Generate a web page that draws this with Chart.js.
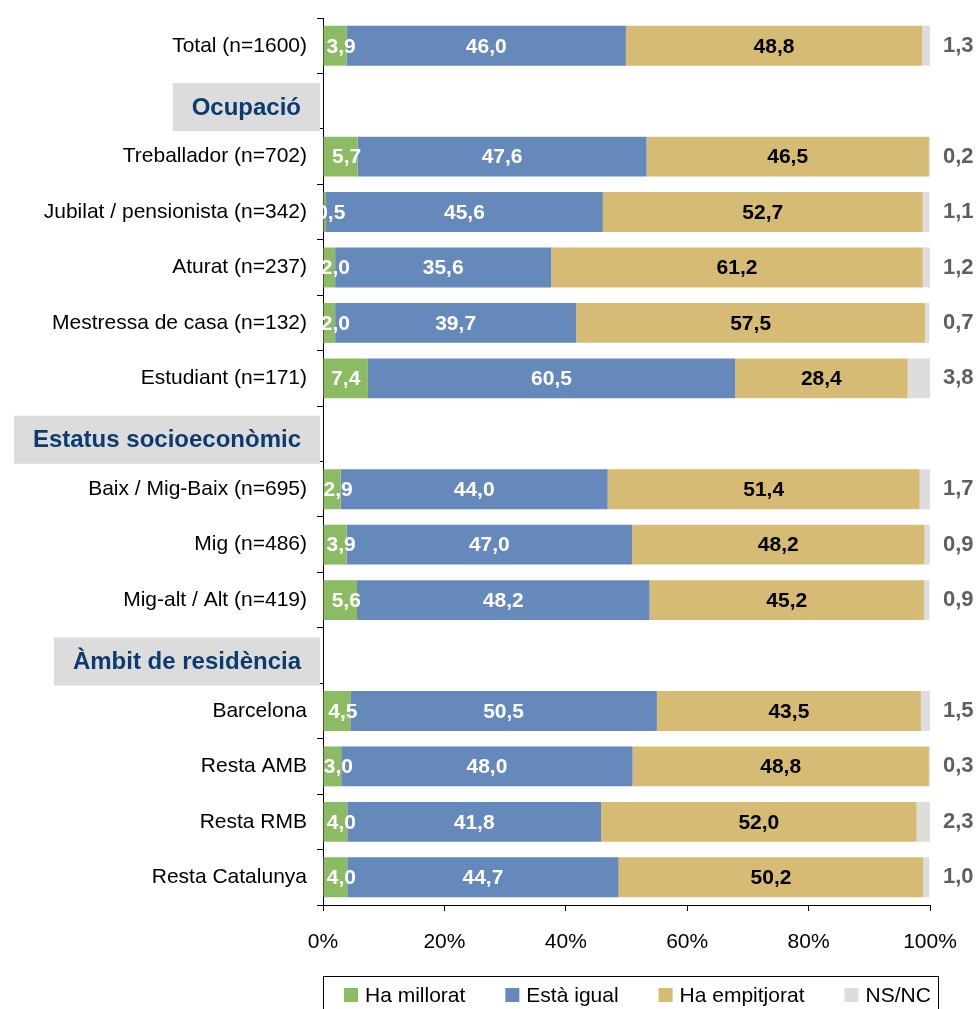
<!DOCTYPE html>
<html>
<head>
<meta charset="utf-8">
<script src="https://cdn.jsdelivr.net/npm/chart.js@4"></script>
<style>
  body { margin: 0; background: #fff; }
  canvas { display: block; }
</style>
</head>
<body>
<canvas id="opinio_chart" width="978" height="1009"></canvas>
<script>
const categories = [
  "Total (n=1600)",
  "Ocupació",
  "Treballador (n=702)",
  "Jubilat / pensionista (n=342)",
  "Aturat (n=237)",
  "Mestressa de casa (n=132)",
  "Estudiant (n=171)",
  "Estatus socioeconòmic",
  "Baix / Mig-Baix (n=695)",
  "Mig (n=486)",
  "Mig-alt / Alt (n=419)",
  "Àmbit de residència",
  "Barcelona",
  "Resta AMB",
  "Resta RMB",
  "Resta Catalunya",
];
const headerRows = ["Ocupació", "Estatus socioeconòmic", "Àmbit de residència"];
const seriesNames = ["Ha millorat", "Està igual", "Ha empitjorat", "NS/NC"];
const haMillorat = [3.9, null, 5.7, 0.5, 2.0, 2.0, 7.4, null, 2.9, 3.9, 5.6, null, 4.5, 3.0, 4.0, 4.0];
const estaIgual = [46.0, null, 47.6, 45.6, 35.6, 39.7, 60.5, null, 44.0, 47.0, 48.2, null, 50.5, 48.0, 41.8, 44.7];
const haEmpitjorat = [48.8, null, 46.5, 52.7, 61.2, 57.5, 28.4, null, 51.4, 48.2, 45.2, null, 43.5, 48.8, 52.0, 50.2];
const nsnc = [1.3, null, 0.2, 1.1, 1.2, 0.7, 3.8, null, 1.7, 0.9, 0.9, null, 1.5, 0.3, 2.3, 1.0];
const xTicks = [0, 20, 40, 60, 80, 100];

const colors = ["#8DBB63", "#6589BA", "#D6BB74", "#DDDDDD"];
const labelColors = ["#fff", "#fff", "#000", "#5f5f5f"];
const FONT = "'Liberation Sans', Arial, sans-serif";
Chart.defaults.font.family = FONT;
Chart.defaults.color = "#000";

const fmt = (v) => v.toFixed(1).replace(".", ",");

// labels inside the segments, NS/NC outside the bar on the right
const valueLabels = {
  id: "valueLabels",
  afterDatasetsDraw(chart) {
    const ctx = chart.ctx,
      area = chart.chartArea;
    ctx.save();
    ctx.font = `bold 21px ${FONT}`;
    ctx.textBaseline = "middle";
    chart.data.datasets.forEach((ds, i) => {
      chart.getDatasetMeta(i).data.forEach((bar, j) => {
        let v = ds.data[j];
        if (v == null) return;
        let { x, base, y } = bar.getProps(["x", "base", "y"], true);
        ctx.fillStyle = labelColors[i];
        if (i === 3) {
          ctx.textAlign = "left";
          ctx.font = `bold 22px ${FONT}`;
          ctx.fillText(fmt(v), area.right + 13, y);
          ctx.font = `bold 21px ${FONT}`;
        } else {
          let cx = (x + base) / 2;
          if (i === 0 && v < 6) cx += 6;
          ctx.textAlign = "center";
          ctx.fillText(fmt(v), cx, y + 1);
        }
      });
    });
    ctx.restore();
  },
};

// grey boxes for the section rows + framed legend at the bottom
const sectionsAndLegend = {
  id: "sectionsAndLegend",
  afterDraw(chart) {
    const ctx = chart.ctx,
      area = chart.chartArea,
      yScale = chart.scales.y;
    ctx.save();
    ctx.font = `bold 24px ${FONT}`;
    ctx.textBaseline = "middle";
    ctx.textAlign = "center";
    categories.forEach((cat, i) => {
      if (!headerRows.includes(cat)) return;
      let cy = yScale.getPixelForValue(i) + 6,
        w = ctx.measureText(cat).width + 38,
        right = area.left - 3;
      ctx.fillStyle = "#DCDCDC";
      ctx.fillRect(right - w, cy - 24, w, 48);
      ctx.fillStyle = "#0B3B6F";
      ctx.fillText(cat, right - w / 2, cy + 1);
    });

    // legend
    ctx.strokeStyle = "#000";
    ctx.lineWidth = 1;
    ctx.strokeRect(area.left + 0.5, 976.5, 615, 60);
    ctx.font = `21px ${FONT}`;
    ctx.textAlign = "left";
    let lx = area.left + 21;
    seriesNames.forEach((name, i) => {
      ctx.fillStyle = colors[i];
      ctx.fillRect(lx, 988, 14, 14);
      ctx.fillStyle = "#000";
      ctx.fillText(name, lx + 21, 996);
      lx += 21 + ctx.measureText(name).width + 40;
    });
    ctx.restore();
  },
};

const seriesData = [haMillorat, estaIgual, haEmpitjorat, nsnc];

const config = {
  type: "bar",
  data: {
    labels: categories,
    datasets: seriesNames.map((name, i) => ({
      label: name,
      data: seriesData[i],
      backgroundColor: colors[i],
      borderWidth: 0,
      barPercentage: 0.72,
      categoryPercentage: 1,
    })),
  },
  options: {
    indexAxis: "y",
    responsive: false,
    animation: false,
    layout: { padding: { top: 18, right: 48, bottom: 0, left: 0 } },
    plugins: {
      legend: { display: false },
      tooltip: { enabled: false },
    },
    scales: {
      x: {
        stacked: true,
        min: 0,
        max: 100,
        afterBuildTicks: (scale) => {
          scale.ticks = xTicks.map((v) => ({ value: v }));
        },
        afterFit: (scale) => {
          scale.height = 104;
          scale.paddingLeft = 0;
          scale.paddingRight = 0;
        },
        ticks: {
          callback: (value) => `${value}%`,
          font: { size: 21 },
          color: "#000",
          padding: 19,
          maxRotation: 0,
        },
        grid: {
          drawOnChartArea: false,
          drawTicks: true,
          tickLength: 6,
          color: "#000",
        },
        border: { color: "#000", width: 1 },
      },
      y: {
        stacked: true,
        afterFit: (scale) => {
          scale.width = 323;
          scale.paddingTop = 0;
          scale.paddingBottom = 0;
        },
        ticks: {
          autoSkip: false,
          font: { size: 21 },
          color: "#000",
          padding: 10,
          callback: function (value) {
            let label = this.getLabelForValue(value);
            return headerRows.includes(label) ? "" : label;
          },
        },
        grid: {
          drawOnChartArea: false,
          drawTicks: true,
          tickLength: 6,
          offset: true,
          color: "#000",
        },
        border: { color: "#000", width: 1 },
      },
    },
  },
  plugins: [valueLabels, sectionsAndLegend],
};

new Chart(document.querySelector("#opinio_chart"), config);
</script>
</body>
</html>
